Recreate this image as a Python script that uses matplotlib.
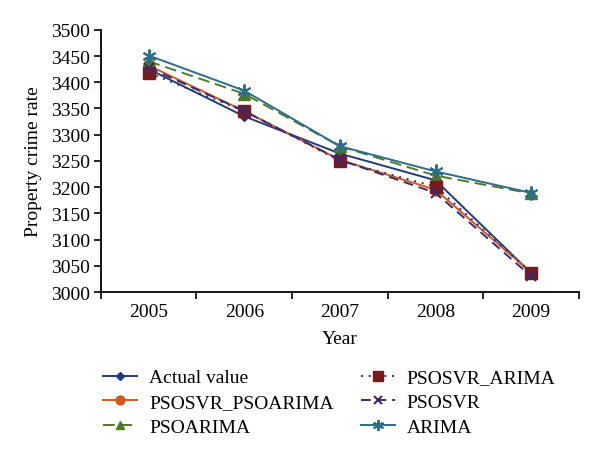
import matplotlib
matplotlib.use("Agg")
import matplotlib.pyplot as plt
import numpy as np

years = ["2005", "2006", "2007", "2008", "2009"]
actual = [3425, 3335, 3264, 3213, 3036]
psosvr_psoarima = [3432, 3345, 3252, 3195, 3037]
psoarima = [3440, 3378, 3278, 3222, 3188]
psosvr_arima = [3418, 3345, 3250, 3201, 3037]
psosvr = [3428, 3345, 3252, 3189, 3030]
arima = [3451, 3384, 3278, 3230, 3189]
yticks = list(range(3000, 3501, 50))

plt.rcParams['font.family'] = ['Liberation Serif', 'DejaVu Serif']

fig = plt.figure(figsize=(6, 4.6), dpi=100)
ax = fig.add_axes([0.168, 0.363, 0.797, 0.570])

x = np.arange(len(years))
h1, = ax.plot(x, actual, color='#1F3C7A', marker='D', ms=5.5, lw=1.4, label='Actual value')
h2, = ax.plot(x, psosvr_psoarima, color='#D05A1E', marker='o', ms=8, lw=1.4, label='PSOSVR_PSOARIMA')
h3, = ax.plot(x, psoarima, color='#4E7A2A', marker='^', ms=8, lw=1.4, ls=(0, (6, 3)), label='PSOARIMA')
h4, = ax.plot(x, psosvr_arima, color='#3F2A7A', marker='s', ms=9, mfc='#7A1A1A', mec='#7A1A1A', lw=1.4, ls=(0, (1, 3)), label='PSOSVR_ARIMA')
h5, = ax.plot(x, psosvr, color='#3F2A6E', marker='x', ms=7, mew=1.5, lw=1.4, ls=(0, (5, 3)), label='PSOSVR')
h6, = ax.plot(x, arima, color='#2A6E8A', marker=(6, 2, 0), ms=10, mew=1.4, lw=1.4, label='ARIMA')

ax.set_xlim(-0.5, 4.5)
ax.set_ylim(3000, 3500)
ax.set_yticks(yticks)
ax.set_xticks(x)
ax.set_xticklabels(years)
ax.set_xticks(np.arange(-0.5, 5.0, 1.0), minor=True)
ax.tick_params(axis='x', which='major', length=0, labelsize=14, pad=8)
ax.tick_params(axis='x', which='minor', length=5, width=1.2, direction='out')
ax.tick_params(axis='y', labelsize=14, length=5, width=1.2, direction='out', pad=3)
for s in ['top', 'right']:
    ax.spines[s].set_visible(False)
for s in ['left', 'bottom']:
    ax.spines[s].set_linewidth(1.3)

ax.set_xlabel('Year', fontsize=14, labelpad=7)
ax.set_ylabel('Property crime rate', fontsize=14, labelpad=6)

fig.legend(handles=[h1, h2, h3, h4, h5, h6], loc='upper left', bbox_to_anchor=(0.143, 0.234),
           ncol=2, frameon=False, fontsize=14, handlelength=1.75, columnspacing=1.4,
           labelspacing=0.36, handletextpad=0.6, markerscale=0.8)

fig.savefig('out.png', dpi=100)
